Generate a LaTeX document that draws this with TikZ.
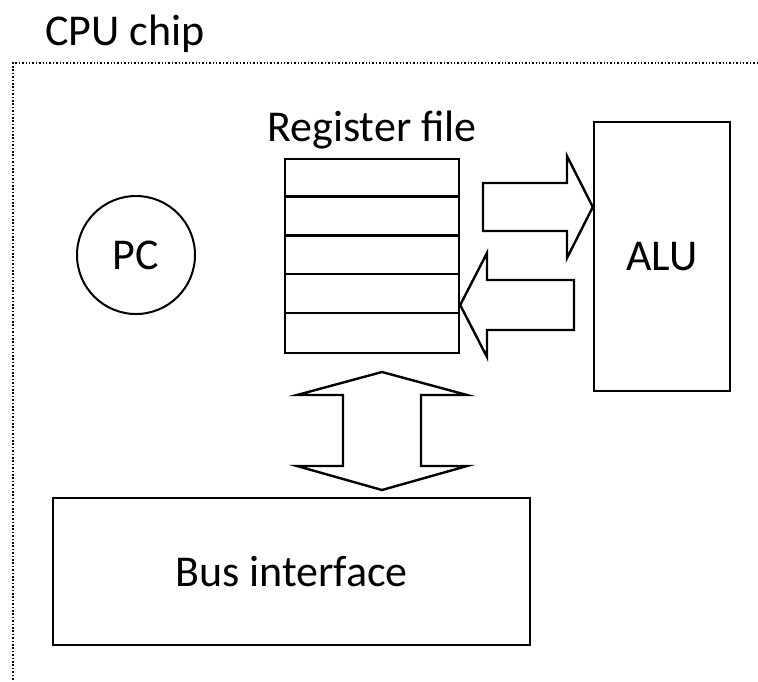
\documentclass[tikz,border=0pt]{standalone}
\usepackage{fontspec}
\setmainfont{Carlito}
\begin{document}
\begin{tikzpicture}[x=1pt,y=-1pt,
  box/.style={draw,line width=2.4pt,inner sep=0pt},
  blockarrow/.style={draw,line width=2.4pt,line join=miter},
  lbl/.style={font=\fontsize{44}{50}\selectfont,inner sep=0pt}]
\useasboundingbox (0,0) rectangle (758,681);
% chip border
\draw[line width=1.8pt,dash pattern=on 1.5pt off 1.9pt] (758,63) -- (13,63) -- (13,681);
\node[lbl,anchor=base west] (chip) at (45,45) {CPU chip};
% register file
\node[box,minimum width=174pt,minimum height=194pt] (rf) at (372,256) {};
\foreach \i in {1,2,3,4}{
  \draw[line width=2.4pt] ([yshift=-\i*38.8pt]rf.north west) -- ([yshift=-\i*38.8pt]rf.north east);
}
\node[lbl,anchor=base] (rflbl) at (372,141) {Register file};
% PC
\node[draw,circle,line width=2pt,minimum size=118pt,inner sep=0pt] (pc) at (136,255) {};
\node[lbl] at (pc.center) {PC};
% ALU
\node[box,minimum width=136pt,minimum height=269pt] (alu) at (662,256.5) {};
\node[lbl] at (alu.center) {ALU};
% Bus interface
\node[box,minimum width=477pt,minimum height=147pt] (bus) at (291.5,571.5) {};
\node[lbl] at (bus.center) {Bus interface};
% right arrow (register file -> ALU)
\draw[blockarrow] (483,183) -- (567,183) -- (567,156) -- (alu.west |- 0,207) -- (567,258) -- (567,231) -- (483,231) -- cycle;
% left arrow (ALU -> register file)
\draw[blockarrow] (574,280) -- (487,280) -- (487,253) -- (rf.east |- 0,305) -- (487,357) -- (487,330) -- (574,330) -- cycle;
% vertical double arrow
\draw[blockarrow] (382,372) -- (467,395) -- (421,395) -- (421,466) -- (467,466) -- (382,490) -- (297,466) -- (343,466) -- (343,395) -- (297,395) -- cycle;
\end{tikzpicture}
\end{document}
